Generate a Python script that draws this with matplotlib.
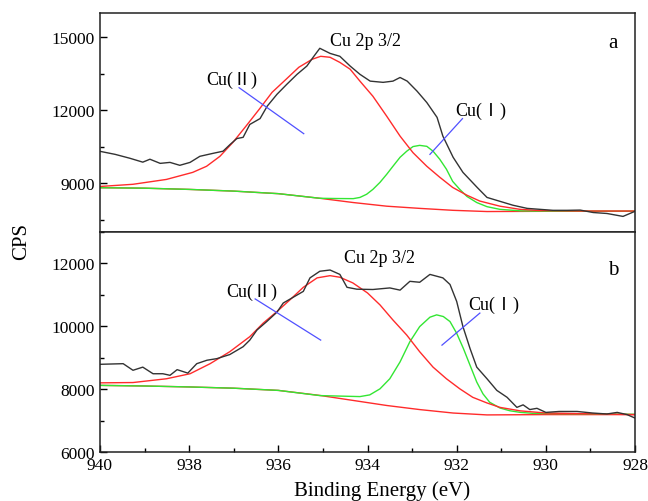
import matplotlib
matplotlib.use("Agg")
import matplotlib.pyplot as plt
from matplotlib.ticker import MultipleLocator

plt.rcParams['font.family'] = ['Liberation Serif', 'DejaVu Serif', 'Noto Sans CJK SC']

# ---- panel a : raw spectrum (binding energy eV, counts) ----
a_raw_ev = [940.00, 939.66, 939.33, 939.04, 938.88, 938.65, 938.43, 938.21, 937.98, 937.76,
            937.47, 937.24, 937.08, 936.93, 936.79, 936.64, 936.41, 936.25, 936.03, 935.81,
            935.58, 935.36, 935.22, 935.07, 934.84, 934.62, 934.39, 934.17, 933.94, 933.65,
            933.43, 933.27, 933.11, 932.89, 932.67, 932.44, 932.31, 932.08, 931.86, 931.54,
            931.32, 931.03, 930.74, 930.42, 930.13, 929.84, 929.52, 929.23, 928.94, 928.63,
            928.27, 928.00]
a_raw_cps = [10315, 10190, 10030, 9870, 9990, 9820, 9860, 9740, 9860, 10110,
             10230, 10320, 10600, 10840, 10890, 11420, 11660, 12170, 12660, 13070,
             13480, 13820, 14180, 14550, 14340, 14220, 13820, 13480, 13200, 13150,
             13200, 13350, 13200, 12790, 12320, 11710, 10940, 10070, 9450, 8830,
             8420, 8260, 8100, 7970, 7930, 7890, 7890, 7900, 7800, 7760,
             7640, 7850]

# Cu(II) fitted component (with background)
a_cu2_ev = [940.00, 939.26, 938.51, 937.92, 937.61, 937.31, 937.02, 936.73, 936.43, 936.14,
            935.83, 935.54, 935.24, 935.05, 934.84, 934.62, 934.39, 934.17, 933.88, 933.57,
            933.27, 932.98, 932.67, 932.38, 932.09, 931.77, 931.48, 931.03, 930.58, 930.13,
            929.20, 928.00]
a_cu2_cps = [8870, 8960, 9160, 9450, 9700, 10110, 10680, 11340, 12040, 12740,
             13270, 13770, 14100, 14220, 14180, 13970, 13690, 13200, 12580, 11760,
             10940, 10260, 9700, 9250, 8830, 8510, 8270, 8060, 7930, 7880,
             7860, 7860]

# Cu(I) fitted component (with background)
a_cu1_ev = [940.00, 939.00, 938.00, 937.00, 936.00, 935.07, 934.69, 934.32, 934.17, 934.02,
            933.88, 933.72, 933.57, 933.43, 933.27, 933.12, 932.98, 932.83, 932.67, 932.53,
            932.38, 932.23, 932.09, 931.93, 931.77, 931.55, 931.32, 931.03, 930.58, 930.00,
            928.00]
a_cu1_cps = [8820, 8800, 8750, 8680, 8575, 8385, 8375, 8370, 8420, 8550,
             8750, 9040, 9370, 9700, 10070, 10320, 10510, 10560, 10520, 10320,
             9990, 9580, 9080, 8750, 8460, 8210, 8040, 7930, 7870, 7855,
             7855]

# background
a_bg_ev = [940.00, 939.00, 938.00, 937.00, 936.00, 935.07, 934.32, 933.57, 932.83, 932.08,
           931.32, 930.00, 928.00]
a_bg_cps = [8820, 8800, 8750, 8680, 8575, 8385, 8210, 8060, 7970, 7890,
            7840, 7850, 7850]

# ---- panel b ----
b_raw_ev = [940.00, 939.48, 939.26, 939.04, 938.81, 938.59, 938.43, 938.27, 938.03, 937.83,
            937.60, 937.38, 937.09, 936.79, 936.64, 936.48, 936.26, 936.03, 935.89, 935.67,
            935.44, 935.29, 935.07, 934.84, 934.62, 934.46, 934.24, 933.88, 933.50, 933.27,
            933.05, 932.83, 932.60, 932.31, 932.15, 932.00, 931.86, 931.70, 931.55, 931.32,
            931.10, 930.87, 930.65, 930.51, 930.36, 930.20, 930.00, 929.70, 929.30, 928.95,
            928.63, 928.40, 928.18, 928.00]
b_raw_cps = [8790, 8810, 8600, 8700, 8490, 8490, 8440, 8620, 8510, 8810,
             8920, 8970, 9100, 9350, 9560, 9880, 10150, 10450, 10740, 10920,
             11110, 11540, 11750, 11790, 11650, 11240, 11180, 11170, 11220, 11150,
             11430, 11400, 11650, 11540, 11330, 10790, 9990, 9290, 8700, 8330,
             7960, 7740, 7420, 7500, 7350, 7390, 7260, 7290, 7290, 7240,
             7210, 7260, 7190, 7080]

b_cu2_ev = [940.00, 939.26, 938.51, 937.98, 937.53, 937.09, 936.64, 936.34, 936.03, 935.74,
            935.44, 935.13, 934.84, 934.62, 934.33, 934.00, 933.72, 933.43, 933.12, 932.83,
            932.53, 932.23, 931.93, 931.64, 931.32, 931.03, 930.58, 930.00, 928.00]
b_cu2_cps = [8200, 8210, 8330, 8490, 8810, 9190, 9670, 10100, 10470, 10840,
             11240, 11540, 11610, 11560, 11380, 11060, 10680, 10200, 9720, 9190,
             8700, 8330, 8010, 7740, 7560, 7420, 7310, 7240, 7190]

b_cu1_ev = [940.00, 939.00, 938.00, 937.00, 936.00, 935.07, 934.17, 933.95, 933.72, 933.50,
            933.27, 933.05, 932.83, 932.60, 932.45, 932.30, 932.15, 932.00, 931.85, 931.70,
            931.55, 931.41, 931.26, 931.03, 930.81, 930.58, 930.29, 928.00]
b_cu1_cps = [8120, 8100, 8070, 8030, 7960, 7795, 7763, 7817, 8010, 8331,
             8867, 9509, 9990, 10289, 10363, 10310, 10150, 9776, 9294, 8758,
             8225, 7849, 7583, 7400, 7313, 7262, 7230, 7200]

b_bg_ev = [940.00, 939.00, 938.00, 937.00, 936.00, 935.07, 934.32, 933.57, 932.83, 932.08,
           931.32, 930.00, 928.00]
b_bg_cps = [8120, 8100, 8070, 8030, 7960, 7800, 7640, 7480, 7350, 7240,
            7180, 7190, 7190]

# ---- labels ----
# (text, x, y, pointer x0, y0, x1, y1)
a_notes = [("Cu(Ⅱ)", 937.04, 13270, 936.88, 12930, 935.43, 11040),
           ("Cu(Ⅰ)", 931.46, 12000, 931.87, 11660, 932.60, 10190)]
b_notes = [("Cu(Ⅱ)", 936.60, 11120, 936.52, 10870, 935.05, 9560),
           ("Cu(Ⅰ)", 931.17, 10710, 931.48, 10420, 932.33, 9400)]

BLACK = '#333333'
RED = '#ff2b2b'
GREEN = '#33e633'
BLUE = '#5050ff'
NOTE_FONT = ['Liberation Serif', 'Noto Sans CJK SC']

fig = plt.figure(figsize=(6.48, 5.02), dpi=100)
ax_a = fig.add_axes([0.1543, 0.5359, 0.8257, 0.4362])
ax_b = fig.add_axes([0.1543, 0.0976, 0.8257, 0.4383])

panels = [
    (ax_a, a_raw_ev, a_raw_cps, a_cu2_ev, a_cu2_cps, a_cu1_ev, a_cu1_cps, a_bg_ev, a_bg_cps,
     a_notes, (7000, 16000), 3000, 1500, "a", 14800, (934.04, 14880)),
    (ax_b, b_raw_ev, b_raw_cps, b_cu2_ev, b_cu2_cps, b_cu1_ev, b_cu1_cps, b_bg_ev, b_bg_cps,
     b_notes, (6000, 13000), 2000, 1000, "b", 11800, (933.72, 12180)),
]

for (ax, rx, ry, c2x, c2y, c1x, c1y, bx, by, notes, ylim, ymaj, ymin,
     tag, tag_y, title_pos) in panels:
    ax.plot(bx, by, color=RED, lw=1.0)
    ax.plot(c1x, c1y, color=GREEN, lw=1.0)
    ax.plot(c2x, c2y, color=RED, lw=1.0)
    ax.plot(rx, ry, color=BLACK, lw=1.0)

    for text, tx, ty, x0, y0, x1, y1 in notes:
        ax.plot([x0, x1], [y0, y1], color=BLUE, lw=0.9)
        ax.text(tx, ty, text, ha='center', va='center', fontsize=13, family=NOTE_FONT)

    ax.text(title_pos[0], title_pos[1], "Cu 2p 3/2", ha='center', va='center', fontsize=13)
    ax.text(928.5, tag_y, tag, ha='center', va='center', fontsize=15)

    ax.set_xlim(940, 928)
    ax.set_ylim(*ylim)
    ax.xaxis.set_major_locator(MultipleLocator(2))
    ax.xaxis.set_minor_locator(MultipleLocator(1))
    ax.yaxis.set_major_locator(MultipleLocator(ymaj))
    ax.yaxis.set_minor_locator(MultipleLocator(ymin))
    ax.tick_params(which='both', direction='in', top=False, right=False, labelsize=12.5,
                   width=1.0)
    ax.tick_params(which='major', length=5)
    ax.tick_params(which='minor', length=3)
    for sp in ax.spines.values():
        sp.set_linewidth(1.1)
        sp.set_color('#222222')

ax_a.tick_params(axis='x', which='both', bottom=False, labelbottom=False)

fig.text(0.034, 0.518, "CPS", rotation=90, ha='center', va='center', fontsize=15)
fig.text(0.59, 0.011, "Binding Energy (eV)", ha='center', va='baseline', fontsize=15)

fig.savefig("out.png", dpi=100)
